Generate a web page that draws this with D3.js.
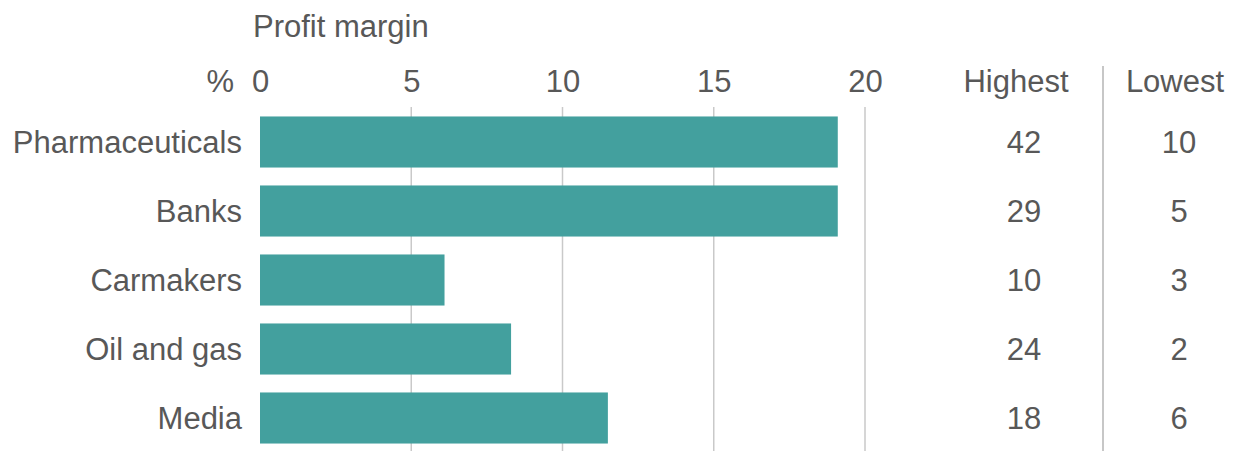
<!DOCTYPE html>
<html lang="en">
  <head>
    <meta charset="UTF-8" />
    <title>Profit margin by industry</title>
    <script src="https://d3js.org/d3.v7.min.js"></script>
    <style>
      body {
        margin: 0;
        padding: 0;
        background: #fff;
      }
      svg {
        display: block;
        background: #fff;
      }
      text {
        font-family: "Liberation Sans", Arial, sans-serif;
        font-size: 31px;
        fill: #585858;
      }
      .bar {
        fill: #43a09e;
      }
      .grid line {
        stroke: #c9c9c9;
        stroke-width: 1.5;
      }
      .sep {
        stroke: #b5b5b5;
        stroke-width: 1.5;
      }
    </style>
  </head>
  <body>
    <script>
      // Data
      const categories = ["Pharmaceuticals", "Banks", "Carmakers", "Oil and gas", "Media"];
      const margins = [19.1, 19.1, 6.1, 8.3, 11.5];
      const highest = [42, 29, 10, 24, 18];
      const lowest = [10, 5, 3, 2, 6];
      const tickValues = [0, 5, 10, 15, 20];

      const width = 1237,
            height = 451;

      const svg = d3.select("body")
                    .append("svg")
                    .attr("width", width)
                    .attr("height", height);

      // Scales
      const x = d3.scaleLinear()
                  .domain([0, 20])
                  .range([260, 865]);

      const y = d3.scaleBand()
                  .domain(categories)
                  .range([107.5, 452.5])
                  .paddingInner(0.26)
                  .paddingOuter(0.13);

      // Vertical gridlines (not at zero)
      svg.append("g")
         .attr("class", "grid")
         .selectAll("line")
         .data(tickValues.filter(d => d > 0))
         .join("line")
         .attr("x1", d => x(d))
         .attr("x2", d => x(d))
         .attr("y1", 107)
         .attr("y2", height);

      // Tick labels along the top
      const axis = svg.append("g")
                      .attr("transform", "translate(0,92)")
                      .call(d3.axisTop(x).tickValues(tickValues).tickSize(0).tickPadding(0));
      axis.select(".domain").remove();
      axis.selectAll("text")
          .attr("font-family", null)
          .attr("font-size", null)
          .attr("fill", null)
          .attr("dy", 0);

      svg.append("text")
         .attr("x", 234)
         .attr("y", 92)
         .attr("text-anchor", "end")
         .text("%");

      svg.append("text")
         .attr("x", 253)
         .attr("y", 37)
         .text("Profit margin");

      // Bars
      const data = categories.map((c, i) => ({
        category: c,
        value: margins[i],
        high: highest[i],
        low: lowest[i]
      }));

      svg.append("g")
         .selectAll("rect")
         .data(data)
         .join("rect")
         .attr("class", "bar")
         .attr("x", x(0))
         .attr("y", d => y(d.category))
         .attr("width", d => x(d.value) - x(0))
         .attr("height", y.bandwidth());

      // Category labels
      svg.append("g")
         .selectAll("text")
         .data(data)
         .join("text")
         .attr("x", 242)
         .attr("y", d => y(d.category) + y.bandwidth() / 2)
         .attr("dy", "0.36em")
         .attr("text-anchor", "end")
         .text(d => d.category);

      // Table columns: Highest / Lowest
      const highX = 1024,
            lowX = 1179;

      svg.append("line")
         .attr("class", "sep")
         .attr("x1", 1103)
         .attr("x2", 1103)
         .attr("y1", 66)
         .attr("y2", height);

      svg.append("text")
         .attr("x", 1016)
         .attr("y", 92)
         .attr("text-anchor", "middle")
         .text("Highest");

      svg.append("text")
         .attr("x", 1175)
         .attr("y", 92)
         .attr("text-anchor", "middle")
         .text("Lowest");

      svg.append("g")
         .selectAll("text")
         .data(data)
         .join("text")
         .attr("x", highX)
         .attr("y", d => y(d.category) + y.bandwidth() / 2)
         .attr("dy", "0.36em")
         .attr("text-anchor", "middle")
         .text(d => d.high);

      svg.append("g")
         .selectAll("text")
         .data(data)
         .join("text")
         .attr("x", lowX)
         .attr("y", d => y(d.category) + y.bandwidth() / 2)
         .attr("dy", "0.36em")
         .attr("text-anchor", "middle")
         .text(d => d.low);
    </script>
  </body>
</html>
